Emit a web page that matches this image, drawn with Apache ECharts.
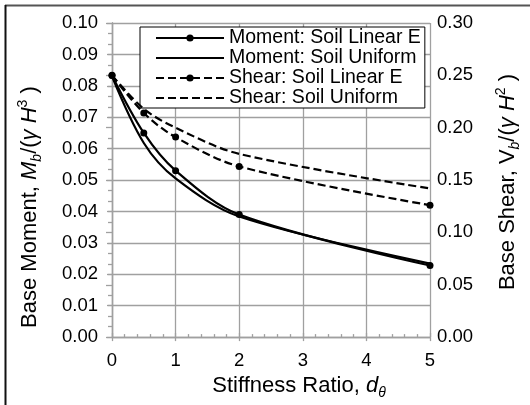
<!DOCTYPE html>
<html>
<head>
<meta charset="utf-8">
<script src="https://cdn.jsdelivr.net/npm/echarts@6/dist/echarts.min.js"></script>
<style>
html,body{margin:0;padding:0;background:#fff;}
#chart{width:530px;height:405px;}
</style>
</head>
<body>
<div id="chart"></div>
<script>
// Data
const stiffness = [0, 0.5, 1, 2, 5];
const momentLinearE = [0.0833, 0.065, 0.053, 0.039, 0.0228];
const momentUniform = [0.083, 0.0618, 0.0505, 0.0384, 0.0234];
const shearLinearE = [0.25, 0.214, 0.191, 0.163, 0.126];
const shearUniform = [0.25, 0.218, 0.2, 0.175, 0.142];
const seriesNames = ['Moment: Soil Linear E', 'Moment: Soil Uniform', 'Shear: Soil Linear E', 'Shear: Soil Uniform'];
const withMarkers = [true, false, true, false];

const FONT = "'Liberation Sans', Arial, sans-serif";
const GRID = '#a0a0a0';
const pairs = (xs, ys) => xs.map((x, i) => [x, ys[i]]);

const titleRich = {
  n: {fontSize: 22, fontFamily: FONT, color: '#000', lineHeight: 28},
  i: {fontSize: 22, fontFamily: FONT, color: '#000', fontStyle: 'italic', lineHeight: 28},
  sub: {fontSize: 14, fontFamily: FONT, color: '#000', fontStyle: 'italic', verticalAlign: 'bottom', lineHeight: 14},
  sup: {fontSize: 14, fontFamily: FONT, color: '#000', verticalAlign: 'top', lineHeight: 14}
};

function mkSeries(name, data, yIdx, dashed, marker) {
  return {
    name, type: 'line', data, yAxisIndex: yIdx, xAxisIndex: 0,
    smooth: 0.33,
    symbol: marker ? 'circle' : 'none', symbolSize: 7, showSymbol: marker,
    lineStyle: {color: '#000', width: 2.2, type: dashed ? [8, 4] : 'solid'},
    itemStyle: {color: '#000'},
    emphasis: {disabled: true},
    z: 5
  };
}

const chart = echarts.init(document.getElementById('chart'), null, {renderer: 'canvas'});
chart.setOption({
  animation: false,
  backgroundColor: '#fff',
  grid: {left: 112, right: 94, top: 23, bottom: 57, containLabel: false},
  legend: {
    data: seriesNames.map((n, i) => withMarkers[i] ? {name: n} : {name: n, itemStyle: {opacity: 0}}),
    orient: 'vertical', left: 140, top: 27,
    itemWidth: 68, itemHeight: 9, itemGap: 0,
    padding: [1, 4, 0, 15],
    backgroundColor: '#fff', borderColor: '#000', borderWidth: 1,
    textStyle: {fontFamily: FONT, fontSize: 19.5, color: '#000', lineHeight: 19.7},
    selectedMode: false
  },
  graphic: [
    {type: 'line', shape: {x1: 5, y1: 5.5, x2: 530, y2: 5.5}, style: {stroke: '#555', lineWidth: 2}},
    {type: 'line', shape: {x1: 5.5, y1: 5, x2: 5.5, y2: 405}, style: {stroke: '#111', lineWidth: 2}}
  ],
  xAxis: [
    {
      type: 'value', position: 'bottom', min: 0, max: 5, interval: 1,
      axisLine: {show: true, lineStyle: {color: GRID, width: 1.3}},
      axisTick: {show: true, inside: true, length: 4, lineStyle: {color: GRID, width: 1.3}},
      minorTick: {show: true, splitNumber: 5, length: 3, lineStyle: {color: GRID, width: 1.3}},
      splitLine: {show: true, lineStyle: {color: GRID, width: 1.3}},
      axisLabel: {fontFamily: FONT, fontSize: 18.5, color: '#000', margin: 14},
      name: '{n|Stiffness Ratio, }{i|d}{sub|θ}',
      nameLocation: 'middle', nameGap: 28,
      nameTextStyle: {rich: titleRich, padding: [0, 0, 0, 56]}
    },
    {
      type: 'value', position: 'bottom', min: 0, max: 5, interval: 1,
      axisLine: {show: false},
      axisTick: {show: true, inside: false, length: 4, lineStyle: {color: GRID, width: 1.3}},
      axisLabel: {show: false}, splitLine: {show: false}
    }
  ],
  yAxis: [
    {
      type: 'value', position: 'left', min: 0, max: 0.1, interval: 0.01,
      axisLine: {show: true, lineStyle: {color: GRID, width: 1.3}},
      axisTick: {show: true, inside: false, length: 5, lineStyle: {color: GRID, width: 1.3}},
      splitLine: {show: true, lineStyle: {color: GRID, width: 1.3}},
      axisLabel: {fontFamily: FONT, fontSize: 18.5, color: '#000', margin: 14, formatter: v => v.toFixed(2)},
      name: '{n|Base Moment, }{i|M}{sub|b}{n|/(}{i|γ H}{sup|3}{n| )}',
      nameLocation: 'middle', nameGap: 68, nameRotate: 90,
      nameTextStyle: {rich: titleRich, padding: [0, 54, 0, 0]}
    },
    {
      type: 'value', position: 'right', min: 0, max: 0.3, interval: 0.05,
      axisLine: {show: true, lineStyle: {color: GRID, width: 1.3}},
      axisTick: {show: true, inside: true, length: 6, lineStyle: {color: GRID, width: 1.3}},
      minorTick: {show: true, splitNumber: 5, length: 4, lineStyle: {color: GRID, width: 1.3}},
      splitLine: {show: false},
      axisLabel: {fontFamily: FONT, fontSize: 18.5, color: '#000', margin: 7, formatter: v => v.toFixed(2)},
      name: '{n|Base Shear, V}{sub|b}{n|/(}{i|γ H}{sup|2}{n| )}',
      nameLocation: 'middle', nameGap: 64, nameRotate: 90,
      nameTextStyle: {rich: titleRich, padding: [0, 4, 0, 0]}
    }
  ],
  series: [
    mkSeries(seriesNames[0], pairs(stiffness, momentLinearE), 0, false, withMarkers[0]),
    mkSeries(seriesNames[1], pairs(stiffness, momentUniform), 0, false, withMarkers[1]),
    mkSeries(seriesNames[2], pairs(stiffness, shearLinearE), 1, true, withMarkers[2]),
    mkSeries(seriesNames[3], pairs(stiffness, shearUniform), 1, true, withMarkers[3])
  ]
});
</script>
</body>
</html>
